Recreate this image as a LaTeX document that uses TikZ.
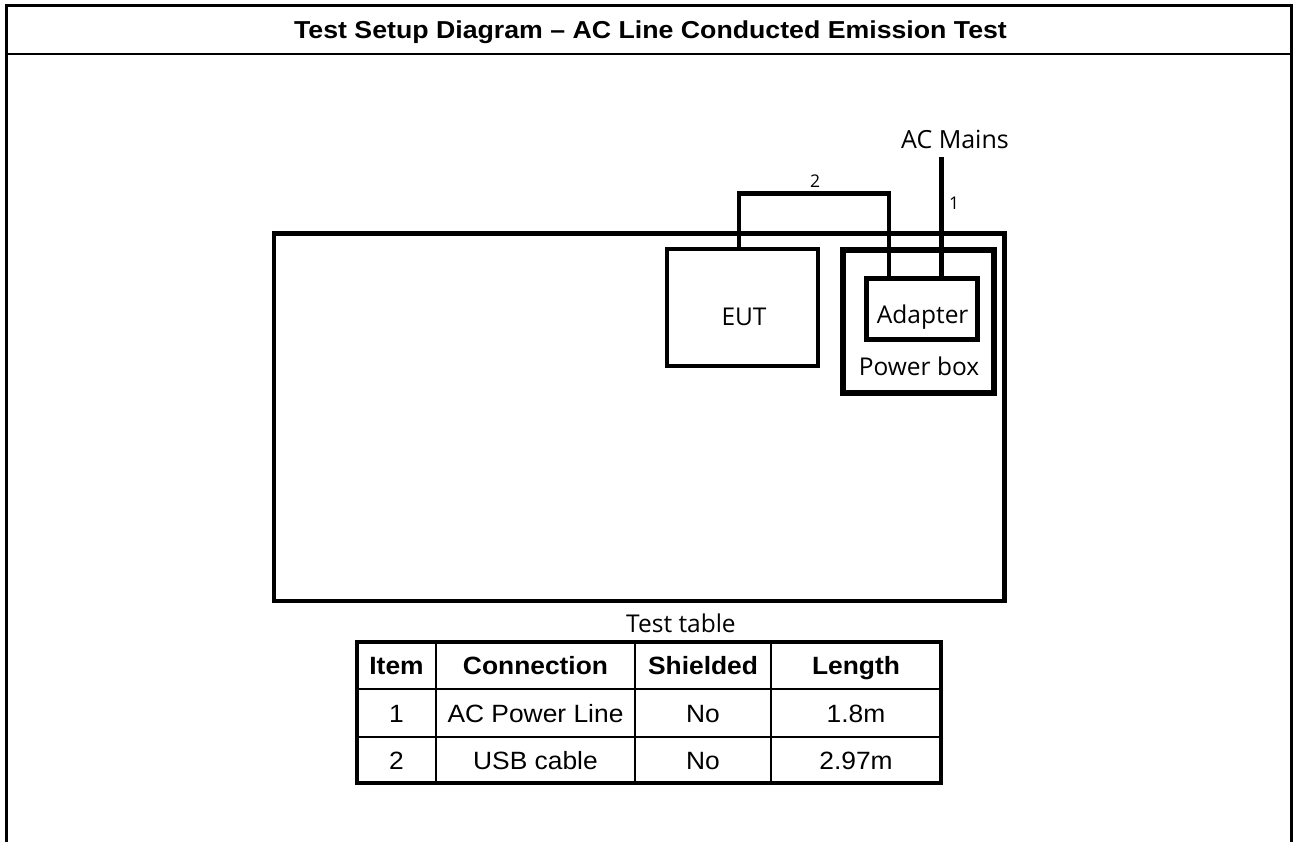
\documentclass[tikz,border=0pt]{standalone}
\usepackage{fontspec}
\setmainfont{Liberation Sans}
\newfontfamily\lblfont{Open Sans}
\usepackage{graphicx}
\newcommand\wtxt[1]{\scalebox{1.055}[1]{#1}}
\tikzset{
  box/.style={draw, inner sep=0pt, outer sep=0pt},
  cable/.style={line width=4.5pt},
  lbl/.style={font=\lblfont\fontsize{24.5}{28}\selectfont, inner sep=0pt, anchor=base},
  smalllbl/.style={font=\lblfont\fontsize{17.5}{20}\selectfont, inner sep=0pt, anchor=base},
  cell/.style={draw, line width=2.3pt, inner sep=0pt, outer sep=0pt, text height=18pt, text depth=0pt,
    font=\fontsize{25}{30}\selectfont},
  hcell/.style={cell, font=\bfseries\fontsize{25}{30}\selectfont},
}
\begin{document}
\begin{tikzpicture}[x=1pt,y=-1pt]
\useasboundingbox (0,0) rectangle (1293,842);
% outer frame
\coordinate (fbl) at (6.7,842);
\coordinate (ftl) at (6.7,5.7);
\coordinate (ftr) at (1291.7,5.7);
\coordinate (fbr) at (1291.7,842);
\draw[line width=3.3pt] (fbl) -- (ftl) -- (ftr) -- (fbr);
\coordinate (sl) at (6.7,54.3);
\coordinate (sr) at (1291.7,54.3);
\draw[line width=2pt] (sl) -- (sr);
\node[font=\bfseries\fontsize{24.5}{28}\selectfont, inner sep=0pt, anchor=base] (title) at (650.5,39)
  {\scalebox{1.09}[1]{Test Setup Diagram – AC Line Conducted Emission Test}};

% test bench
\node[box, line width=4.5pt, minimum width=730.3pt, minimum height=367.1pt] (bench) at (639.15,417.25) {};
\node[lbl] (benchl) at (681,632) {Test table};

% EUT
\node[box, line width=4pt, minimum width=150.5pt, minimum height=117pt] (eut) at (742.25,307.5) {};
\node[lbl] (eutl) at (744,325) {EUT};

% power box and adapter
\node[box, line width=6pt, minimum width=150.5pt, minimum height=143pt] (pbox) at (918.25,321.5) {};
\node[lbl] (pboxl) at (919,375) {Power box};
\node[box, line width=5pt, minimum width=111.5pt, minimum height=60.5pt] (adapter) at (921.75,308.75) {};
\node[lbl] (adapterl) at (922.7,323.3) {Adapter};

% cables
\coordinate (c2a) at (739,193.7);
\coordinate (c2b) at (889,193.7);
\draw[cable] (eut.north -| c2a) -- (c2a) -- (c2b) -- (adapter.north -| c2b);
\node[smalllbl] (c2l) at (815,187.3) {2};
\coordinate (c1) at (941.7,157.3);
\draw[cable] (c1) -- (adapter.north -| c1);
\node[smalllbl] (c1l) at (954,210) {1};
\node[lbl, font=\lblfont\fontsize{25}{28}\selectfont] (acm) at (955,148.3) {AC Mains};

% cable table
\node[hcell, minimum width=79pt, minimum height=47pt] (h1) at (396.5,665.5) {\wtxt{Item}};
\node[hcell, minimum width=199pt, minimum height=47pt] (h2) at (535.5,665.5) {\wtxt{Connection}};
\node[hcell, minimum width=136pt, minimum height=47pt] (h3) at (703,665.5) {\wtxt{Shielded}};
\node[hcell, minimum width=170pt, minimum height=47pt] (h4) at (856,665.5) {\wtxt{Length}};
\node[cell, minimum width=79pt, minimum height=48pt] (a1) at (396.5,713) {\wtxt{1}};
\node[cell, minimum width=199pt, minimum height=48pt] (a2) at (535.5,713) {\wtxt{AC Power Line}};
\node[cell, minimum width=136pt, minimum height=48pt] (a3) at (703,713) {\wtxt{No}};
\node[cell, minimum width=170pt, minimum height=48pt] (a4) at (856,713) {\wtxt{1.8m}};
\node[cell, minimum width=79pt, minimum height=46pt] (b1) at (396.5,760) {\wtxt{2}};
\node[cell, minimum width=199pt, minimum height=46pt] (b2) at (535.5,760) {\wtxt{USB cable}};
\node[cell, minimum width=136pt, minimum height=46pt] (b3) at (703,760) {\wtxt{No}};
\node[cell, minimum width=170pt, minimum height=46pt] (b4) at (856,760) {\wtxt{2.97m}};
\draw[line width=3.3pt] (h1.north west) rectangle (b4.south east);
\end{tikzpicture}
\end{document}
